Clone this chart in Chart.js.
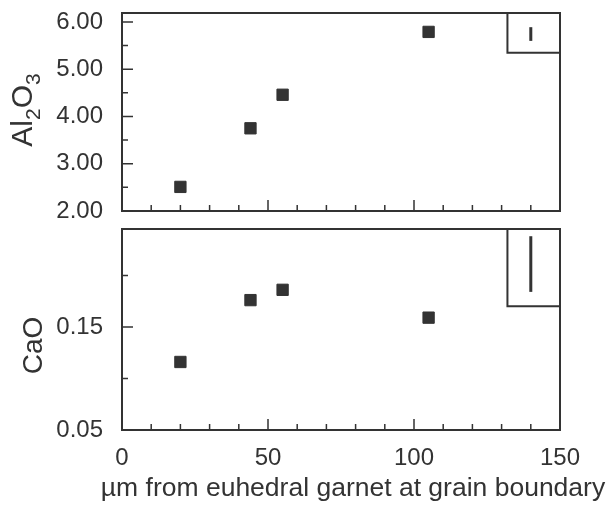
<!DOCTYPE html>
<html>
<head>
<meta charset="UTF-8" />
<title>Al2O3 and CaO vs distance from garnet</title>
<script src="https://cdn.jsdelivr.net/npm/chart.js"></script>
<style>
  body { margin: 0; background: #fff; }
  .panel { position: absolute; left: 0; width: 608px; }
</style>
</head>
<body>
<div class="panel" style="top:0; height:220px"><canvas id="al2o3Chart"></canvas></div>
<div class="panel" style="top:220px; height:287px"><canvas id="caoChart"></canvas></div>

<script>
  // values
  const distance = [20, 44, 55, 105];
  const al2o3 = [2.51, 3.75, 4.46, 5.79];
  const cao = [0.116, 0.176, 0.186, 0.159];

  const xTicks = [0, 50, 100, 150];
  const al2o3Ticks = [2, 3, 4, 5, 6];
  const al2o3Minor = [2.5, 3.5, 4.5, 5.5];
  const caoTicks = [0.05, 0.15];
  const caoMinor = [0.10, 0.20];

  const al2o3Range = [2, 6.19];
  const caoRange = [0.05, 0.245];

  // error bar key in the upper right corner of each panel
  const errX = 140;
  const boxLeft = 132;
  const al2o3Err = [5.60, 5.89];
  const al2o3BoxBottom = 5.35;
  const caoErr = [0.184, 0.238];
  const caoBoxBottom = 0.170;

  const xTitle = 'µm from euhedral garnet at grain boundary';

  const ink = '#333';
  const family = '"Liberation Sans", Arial, Helvetica, sans-serif';

  function framePlugin(yMajor, yMinor, title) {
    return {
      id: 'frame',
      afterDatasetsDraw(chart) {
        const { ctx, chartArea: a, scales: { x, y } } = chart;
        ctx.save();
        ctx.strokeStyle = ink;
        ctx.lineWidth = 2;
        ctx.strokeRect(a.left, a.top, a.right - a.left, a.bottom - a.top);

        // inward ticks
        ctx.beginPath();
        for (let v = 10; v < 150; v += 10) {
          const px = x.getPixelForValue(v);
          const len = v % 50 === 0 ? 11 : 6;
          ctx.moveTo(px, a.bottom);
          ctx.lineTo(px, a.bottom - len);
        }
        yMajor.forEach(v => {
          const py = y.getPixelForValue(v);
          ctx.moveTo(a.left, py);
          ctx.lineTo(a.left + 11, py);
        });
        yMinor.forEach(v => {
          const py = y.getPixelForValue(v);
          ctx.moveTo(a.left, py);
          ctx.lineTo(a.left + 6, py);
        });
        ctx.lineWidth = 1.5;
        ctx.stroke();

        ctx.fillStyle = ink;
        ctx.textBaseline = 'alphabetic';

        // x title, slightly right of the axis centre as in the original
        if (title.xText) {
          ctx.font = title.xSize + 'px ' + family;
          ctx.textAlign = 'center';
          ctx.fillText(title.xText, title.xCenter, a.bottom + title.xDrop);
        }

        // rotated y title with subscripts
        ctx.textAlign = 'left';
        const fontFor = s => (s.sub ? title.sub : title.size) + 'px ' + family;
        let total = 0;
        title.parts.forEach(s => { ctx.font = fontFor(s); total += ctx.measureText(s.text).width; });
        const cy = (a.top + a.bottom) / 2 + title.shift;
        ctx.translate(title.baseX, cy);
        ctx.rotate(-Math.PI / 2);
        let pos = -total / 2;
        title.parts.forEach(s => {
          ctx.font = fontFor(s);
          ctx.fillText(s.text, pos, s.sub ? title.sub * 0.4 : 0);
          pos += ctx.measureText(s.text).width;
        });
        ctx.restore();
      }
    };
  }

  function makeChart(id, values, range, yTicks, yMinor, err, boxBottom, padding, showX, title) {
    const ctx = document.getElementById(id).getContext('2d');
    const points = distance.map((d, i) => ({ x: d, y: values[i] }));

    return new Chart(ctx, {
      type: 'scatter',
      data: {
        datasets: [
          {
            data: points,
            pointStyle: 'rect',
            pointRadius: 8,
            backgroundColor: ink,
            borderColor: ink,
            borderWidth: 1
          },
          {
            data: [{ x: errX, y: err[0] }, { x: errX, y: err[1] }],
            showLine: true, pointRadius: 0, borderColor: ink, borderWidth: 3
          },
          {
            data: [{ x: boxLeft, y: range[1] }, { x: boxLeft, y: boxBottom }, { x: 150, y: boxBottom }],
            showLine: true, pointRadius: 0, borderColor: ink, borderWidth: 2
          }
        ]
      },
      options: {
        responsive: true,
        maintainAspectRatio: false,
        animation: false,
        layout: { padding: padding },
        plugins: { legend: { display: false }, tooltip: { enabled: false } },
        scales: {
          x: {
            type: 'linear', min: 0, max: 150, display: showX,
            afterBuildTicks: s => { s.ticks = xTicks.map(v => ({ value: v })); },
            grid: { display: false, drawTicks: false },
            border: { display: false },
            ticks: { color: ink, font: { family: family, size: 24 }, padding: 14 },
            afterFit: s => {
              s.height = showX ? 67 : 0;
              s.paddingLeft = 0;
              s.paddingRight = 0;
            }
          },
          y: {
            min: range[0], max: range[1],
            afterBuildTicks: s => { s.ticks = yTicks.map(v => ({ value: v })); },
            grid: { display: false, drawTicks: false },
            border: { display: false },
            ticks: {
              color: ink, font: { family: family, size: 24 }, padding: 19,
              callback: v => v.toFixed(2)
            },
            afterFit: s => {
              s.width = 122;
              s.paddingTop = 0;
              s.paddingBottom = 0;
            }
          }
        }
      },
      plugins: [framePlugin(yTicks, yMinor, title)]
    });
  }

  makeChart('al2o3Chart', al2o3, al2o3Range, al2o3Ticks, al2o3Minor,
    al2o3Err, al2o3BoxBottom, { top: 13, right: 48, bottom: 8, left: 0 }, false,
    { parts: [{ text: 'Al' }, { text: '2', sub: true }, { text: 'O' }, { text: '3', sub: true }],
      size: 30, sub: 21, baseX: 32, shift: -2 });

  makeChart('caoChart', cao, caoRange, caoTicks, caoMinor,
    caoErr, caoBoxBottom, { top: 7, right: 48, bottom: 10, left: 0 }, true,
    { parts: [{ text: 'CaO' }], size: 28, sub: 20, baseX: 42, shift: 16,
      xText: xTitle, xSize: 26.5, xCenter: 353, xDrop: 66 });
</script>
</body>
</html>
